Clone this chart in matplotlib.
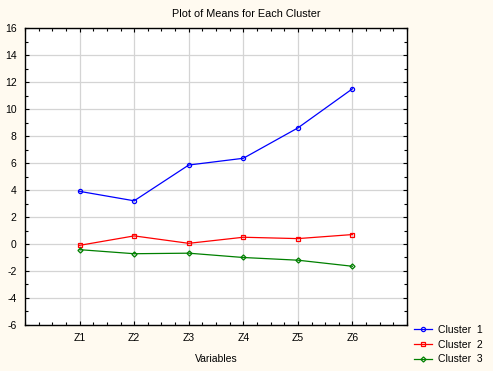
import matplotlib
matplotlib.use("Agg")
import matplotlib.pyplot as plt
from matplotlib.ticker import MultipleLocator

plt.rcParams['font.family'] = ['Liberation Sans', 'DejaVu Sans']
plt.rcParams['axes.unicode_minus'] = False

variables = ["Z1", "Z2", "Z3", "Z4", "Z5", "Z6"]
cluster1 = [3.9, 3.2, 5.85, 6.35, 8.6, 11.5]
cluster2 = [-0.1, 0.6, 0.05, 0.5, 0.4, 0.7]
cluster3 = [-0.42, -0.72, -0.68, -1.0, -1.2, -1.65]

bg = '#fffaf0'
fig = plt.figure(figsize=(4.93, 3.71), dpi=100, facecolor=bg)
ax = fig.add_axes([0.0507, 0.124, 0.775, 0.8005])

xs = list(range(1, len(variables) + 1))
ax.plot(xs, cluster1, 'o-', color='blue', lw=0.9, ms=3, mfc='none', mew=0.9, label='Cluster  1')
ax.plot(xs, cluster2, 's-', color='red', lw=0.9, ms=3.5, mfc='none', mew=0.9, label='Cluster  2')
ax.plot(xs, cluster3, 'D-', color='green', lw=0.9, ms=2.6, mfc='none', mew=0.9, label='Cluster  3')

ax.set_xlim(0, 7)
ax.set_ylim(-6, 16)
ax.set_xticks(xs)
ax.set_xticklabels(variables)
ax.yaxis.set_major_locator(MultipleLocator(2))
ax.yaxis.set_minor_locator(MultipleLocator(1))
ax.xaxis.set_minor_locator(MultipleLocator(0.25))
ax.grid(True, which='major', color='#d4d4d4', lw=0.9)
ax.set_axisbelow(True)
ax.tick_params(which='both', direction='in', top=True, right=True, labelsize=7.5, colors='black')
ax.tick_params(which='major', length=3, width=0.8, pad=6)
ax.tick_params(which='minor', length=2, width=0.8)
for s in ax.spines.values():
    s.set_linewidth(1.0)

# title sits centred on the whole figure
fig.suptitle("Plot of Means for Each Cluster", fontsize=7.8, x=0.5, y=0.975)
ax.set_xlabel("Variables", fontsize=7.5, labelpad=8)

fig.legend(loc='upper left', bbox_to_anchor=(0.84, 0.124), frameon=False, fontsize=7.5,
           handlelength=1.7, handletextpad=0.6, labelspacing=0.45, borderpad=0, borderaxespad=0)

fig.savefig("out.png", dpi=100, facecolor=bg)
